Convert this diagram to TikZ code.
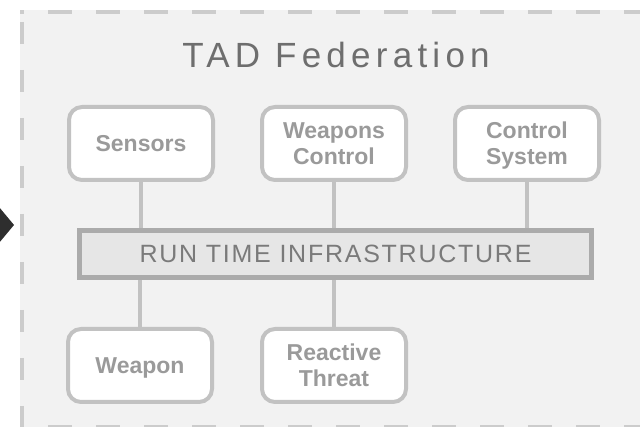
\documentclass[tikz,border=0pt]{standalone}
\usepackage{fontspec}
\setmainfont{Liberation Sans}
\newfontfamily\titlefont[LetterSpace=15]{Liberation Sans}
\newfontfamily\rtifont[LetterSpace=7]{Liberation Sans}
\definecolor{bgfill}{HTML}{F2F2F2}
\definecolor{dashgray}{HTML}{CCCCCC}
\definecolor{boxline}{HTML}{C2C2C2}
\definecolor{labelgray}{HTML}{9A9A9A}
\definecolor{titlegray}{HTML}{6E6E6E}
\definecolor{rtiline}{HTML}{ABABAB}
\definecolor{rtifill}{HTML}{E6E6E6}
\definecolor{rtitext}{HTML}{7A7A7A}
\definecolor{arrowdark}{HTML}{2E2E2E}
\pgfdeclarelayer{under}
\pgfsetlayers{under,main}
\tikzset{
  comp/.style={draw=boxline, line width=4pt, fill=white, rounded corners=13pt,
    minimum width=144pt, minimum height=73pt, inner sep=0pt, align=center,
    text depth=0pt,
    text=labelgray, font=\bfseries\fontsize{23}{26}\selectfont},
  link/.style={draw=boxline, line width=4pt},
  rtibox/.style={draw=rtiline, line width=5pt, fill=rtifill, minimum width=512pt,
    minimum height=47pt, inner sep=0pt, text=rtitext, font=\rtifont\fontsize{25}{30}\selectfont},
  border/.style={draw=dashgray, line width=4.5pt}
}
\begin{document}
\begin{tikzpicture}[x=1pt,y=-1pt]
\useasboundingbox (0,0) rectangle (640,427);
\begin{pgfonlayer}{under}
  \fill[bgfill] (20,10) rectangle (640,427);
  \draw[border, dash pattern=on 24pt off 24pt, dash phase=20pt] (20,12) -- (640,12);
  \draw[border, dash pattern=on 24pt off 24pt, dash phase=20pt] (20,427) -- (640,427);
  \draw[border, dash pattern=on 22pt off 26pt, dash phase=38pt] (22,12) -- (22,427);
\end{pgfonlayer}
\fill[arrowdark] (-6,201) -- (14,225) -- (-6,249) -- cycle;
\node[anchor=base, text=titlegray, font=\titlefont\fontsize{35}{40}\selectfont, inner sep=0pt] (title) at (336,68) {TAD Federation};
\node[comp] (sensors) at (141,143.5) {Sensors};
\node[comp] (wc) at (334,143.5) {Weapons\\Control};
\node[comp] (cs) at (527,143.5) {Control\\System};
\node[rtibox] (rti) at (335.5,254) {RUN TIME INFRASTRUCTURE};
\node[comp] (weapon) at (140,365.5) {Weapon};
\node[comp] (threat) at (334,365.5) {Reactive\\Threat};
\begin{pgfonlayer}{under}
  \draw[link] (sensors) -- (sensors |- rti);
  \draw[link] (wc) -- (wc |- rti);
  \draw[link] (cs) -- (cs |- rti);
  \draw[link] (weapon) -- (weapon |- rti);
  \draw[link] (threat) -- (threat |- rti);
\end{pgfonlayer}
\end{tikzpicture}
\end{document}
